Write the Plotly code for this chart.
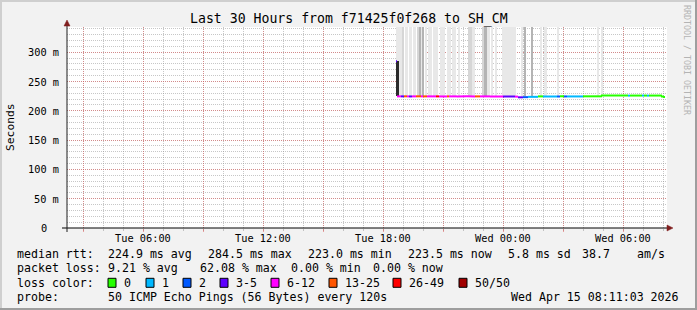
import plotly.graph_objects as go
import pandas as pd

# ---------------- data ----------------
t_start = "2026-04-14 02:11:03"
t_end = "2026-04-15 08:11:03"

# median RTT samples (ms) and lost pings out of 50
median_times = [
    "2026-04-14 18:38", "2026-04-14 18:41", "2026-04-14 18:53", "2026-04-14 19:02",
    "2026-04-14 19:11", "2026-04-14 19:17", "2026-04-14 19:26", "2026-04-14 19:38",
    "2026-04-14 19:53", "2026-04-14 19:59", "2026-04-14 20:11", "2026-04-14 20:38",
    "2026-04-14 20:47", "2026-04-14 21:11", "2026-04-14 21:17", "2026-04-14 21:41",
    "2026-04-14 22:11", "2026-04-14 22:35", "2026-04-14 22:50", "2026-04-14 23:20",
    "2026-04-14 23:59", "2026-04-15 00:35", "2026-04-15 00:44", "2026-04-15 00:59",
    "2026-04-15 01:14", "2026-04-15 01:44", "2026-04-15 01:59", "2026-04-15 02:41",
    "2026-04-15 02:50", "2026-04-15 03:02", "2026-04-15 03:11", "2026-04-15 03:59",
    "2026-04-15 04:56", "2026-04-15 06:14", "2026-04-15 06:20", "2026-04-15 06:56",
    "2026-04-15 07:02", "2026-04-15 07:11", "2026-04-15 07:17", "2026-04-15 07:56",
    "2026-04-15 08:02",
]
median_ms = [
    284.5, 224.6, 224.6, 224.7,
    224.6, 224.5, 224.6, 224.7,
    224.6, 224.6, 224.6, 224.6,
    224.5, 224.6, 224.6, 224.7,
    224.6, 224.6, 224.6, 224.5,
    224.4, 224.2, 223.0, 223.3,
    223.8, 224.6, 224.4, 224.4,
    224.8, 224.5, 224.5, 224.7,
    226.0, 225.9, 226.0, 226.0,
    226.0, 225.9, 226.0, 224.6,
    223.5,
]
lost_pings = [
    4, 8, 4, 15,
    9, 4, 10, 16,
    8, 14, 9, 30,
    10, 15, 8, 11,
    9, 17, 9, 7,
    4, 8, 3, 2,
    1, 0, 1, 2,
    0, 2, 1, 0,
    0, 1, 0, 1,
    0, 1, 0, 0,
    0,
]
median_last = "2026-04-15 08:05"

# smoke (spread of individual pings above the median)
smoke_from = [
    "2026-04-14 18:38", "2026-04-14 18:50", "2026-04-14 18:56", "2026-04-14 19:05",
    "2026-04-14 19:17", "2026-04-14 19:29", "2026-04-14 19:44", "2026-04-14 19:47",
    "2026-04-14 19:53", "2026-04-14 19:59", "2026-04-14 20:05", "2026-04-14 20:14",
    "2026-04-14 20:29", "2026-04-14 20:50", "2026-04-14 21:11", "2026-04-14 21:26",
    "2026-04-14 21:44", "2026-04-14 22:14", "2026-04-14 22:26", "2026-04-14 22:59",
    "2026-04-14 23:02", "2026-04-14 23:11", "2026-04-14 23:26", "2026-04-14 23:35",
    "2026-04-14 23:56", "2026-04-15 00:56", "2026-04-15 01:05", "2026-04-15 01:26",
    "2026-04-15 01:50", "2026-04-15 02:02", "2026-04-15 02:41", "2026-04-15 04:41",
    "2026-04-15 04:56", "2026-04-14 18:38",
]
smoke_to = [
    "2026-04-14 18:50", "2026-04-14 18:56", "2026-04-14 19:02", "2026-04-14 19:14",
    "2026-04-14 19:26", "2026-04-14 19:38", "2026-04-14 19:47", "2026-04-14 19:53",
    "2026-04-14 19:59", "2026-04-14 20:02", "2026-04-14 20:11", "2026-04-14 20:26",
    "2026-04-14 20:44", "2026-04-14 21:05", "2026-04-14 21:23", "2026-04-14 21:38",
    "2026-04-14 21:50", "2026-04-14 22:26", "2026-04-14 22:35", "2026-04-14 23:02",
    "2026-04-14 23:11", "2026-04-14 23:20", "2026-04-14 23:29", "2026-04-14 23:41",
    "2026-04-15 00:38", "2026-04-15 00:59", "2026-04-15 01:08", "2026-04-15 01:29",
    "2026-04-15 01:56", "2026-04-15 02:11", "2026-04-15 02:47", "2026-04-15 04:47",
    "2026-04-15 04:59", "2026-04-14 18:47",
]
smoke_top_ms = [380] * 33 + [284.5]
smoke_density = [
    1, 1, 2, 1, 1, 1, 2, 3, 1, 3, 1, 1, 1, 1, 1, 1, 1,
    2, 1, 2, 3, 1, 1, 1, 1, 1, 3, 3, 1, 1, 1, 1, 1, 4,
]

loss_labels = ["0", "1", "2", "3-5", "6-12", "13-25", "26-49", "50/50"]
loss_lower = [0, 1, 2, 3, 6, 13, 26, 50]

x_tick_vals = [
    "2026-04-14 03:00", "2026-04-14 06:00", "2026-04-14 09:00", "2026-04-14 12:00",
    "2026-04-14 15:00", "2026-04-14 18:00", "2026-04-14 21:00", "2026-04-15 00:00",
    "2026-04-15 03:00", "2026-04-15 06:00",
]
x_tick_text = ["", "Tue 06:00", "", "Tue 12:00", "", "Tue 18:00", "",
               "Wed 00:00", "", "Wed 06:00"]
y_tick_vals = [0, 50, 100, 150, 200, 250, 300]
y_tick_text = ["0", "50 m", "100 m", "150 m", "200 m", "250 m", "300 m"]
y_max = 343

title_text = "Last 30 Hours from f71425f0f268 to SH_CM"
rtt_items = ["224.9 ms avg", "284.5 ms max", "223.0 ms min", "223.5 ms now",
             "5.8 ms sd", "38.7", "am/s"]
loss_items = ["9.21 % avg", "62.08 % max", "0.00 % min", "0.00 % now"]
probe_text = "50 ICMP Echo Pings (56 Bytes) every 120s"
stamp_text = "Wed Apr 15 08:11:03 2026"

# ---------------- styles ----------------
LOSS_COLORS = ["#26ff00", "#00b8ff", "#0059ff", "#5e00ff", "#ff00ff",
               "#ff5500", "#ff0000", "#a10000"]
SMOKE_COLORS = {1: "#e8e8e8", 2: "#d6d6d6", 3: "#b4b4b4", 4: "#2b2b2b"}
MONO = "DejaVu Sans Mono"
GRID = "rgba(143,143,143,0.5)"
MGRID = "rgba(222,79,79,0.5)"

L, R, T, B = 67, 667, 27, 228  # plot area in pixels


def X(px):
    return (px - L) / (R - L)


def Y(py):
    return (B - py) / (B - T)


def loss_cat(n):
    c = 0
    for i, lo in enumerate(loss_lower):
        if n >= lo:
            c = i
    return c


fig = go.Figure()

# smoke bars
sf = pd.to_datetime(smoke_from)
st = pd.to_datetime(smoke_to)
for lvl in sorted(set(smoke_density)):
    idx = [i for i, d in enumerate(smoke_density) if d == lvl]
    mids = [sf[i] + (st[i] - sf[i]) / 2 for i in idx]
    widths = [(st[i] - sf[i]).total_seconds() * 1000 for i in idx]
    base = [224.6] * len(idx)
    fig.add_trace(go.Bar(
        x=mids, y=[smoke_top_ms[i] - 224.6 for i in idx], base=base, width=widths,
        marker=dict(color=SMOKE_COLORS[lvl], line=dict(width=0)),
        hoverinfo="skip", showlegend=False,
    ))

# median line, one trace per loss category, steps
mt = pd.to_datetime(median_times)
nxt = list(mt[1:]) + [pd.to_datetime(median_last)]
segs = {c: ([], []) for c in range(len(loss_lower))}
prev_cat = None
for i, (t, v, n) in enumerate(zip(mt, median_ms, lost_pings)):
    c = loss_cat(n)
    xs, ys = segs[c]
    if prev_cat == c:
        xs += [t, t, nxt[i], None]
        ys += [median_ms[i - 1], v, v, None]
    else:
        xs += [t, nxt[i], None]
        ys += [v, v, None]
    prev_cat = c
for c, (xs, ys) in segs.items():
    if xs:
        fig.add_trace(go.Scatter(
            x=xs, y=ys, mode="lines", line=dict(color=LOSS_COLORS[c], width=2),
            hoverinfo="skip", showlegend=False, connectgaps=False,
        ))

fig.update_layout(
    width=697, height=310, autosize=False,
    margin=dict(l=L, r=697 - R, t=T, b=310 - B, pad=0),
    paper_bgcolor="#f2f2f2", plot_bgcolor="#ffffff",
    barmode="overlay", bargap=0, showlegend=False,
    font=dict(family=MONO, color="#000000"),
)
fig.update_xaxes(
    type="date", range=[t_start, t_end], fixedrange=True,
    tickmode="array", tickvals=x_tick_vals, showticklabels=False,
    showgrid=True, gridcolor=MGRID, griddash="1px,1px", gridwidth=1,
    ticks="outside", ticklen=3, tickcolor=MGRID,
    minor=dict(dtick=3600000, tick0="2026-04-14 00:00", showgrid=True,
               gridcolor=GRID, griddash="1px,1px", ticks="outside",
               ticklen=2, tickcolor=GRID),
    showline=False, zeroline=False, layer="above traces",
)
fig.update_yaxes(
    range=[0, y_max], fixedrange=True,
    tickmode="array", tickvals=y_tick_vals, showticklabels=False,
    showgrid=True, gridcolor=MGRID, griddash="1px,1px", gridwidth=1,
    minor=dict(dtick=10, showgrid=True, gridcolor=GRID, griddash="1px,1px"),
    showline=False, zeroline=False, layer="above traces",
)

ann = []


def txt(px, py, s, size=11.6, anchor="left", color="#000", **kw):
    ann.append(dict(xref="paper", yref="paper", x=X(px), y=Y(py), text=s,
                    showarrow=False, xanchor=anchor, yanchor="middle",
                    font=dict(family=MONO, size=size, color=color),
                    borderpad=0, **kw))


# x tick labels (placed on the time axis)
for v, s in zip(x_tick_vals, x_tick_text):
    if s:
        ann.append(dict(xref="x", yref="paper", x=v, y=Y(237.5), text=s,
                        showarrow=False, xanchor="center", yanchor="middle",
                        font=dict(family=MONO, size=10.3, color="#000"), borderpad=0))

# y tick labels
for v, s in zip(y_tick_vals, y_tick_text):
    ann.append(dict(xref="paper", yref="y", x=X(60 if v else 47.5), y=v, text=s,
                    showarrow=False, xanchor="right", yanchor="middle",
                    font=dict(family=MONO, size=10.3, color="#000"), borderpad=0))

txt(348.5, 19, title_text, size=13.2, anchor="center")
txt(11, 127, "Seconds", size=11.3, anchor="center", textangle=-90)
txt(687, 60, "RRDTOOL / TOBI OETIKER", size=8.3, anchor="center",
    color="#b4b4b4", textangle=90)

# legend rows
row_y = [254, 268.4, 282.8, 297.2]
txt(16, row_y[0], "median rtt:")
for px, s in zip([107, 207, 307, 407, 507, 581, 636], rtt_items):
    txt(px, row_y[0], s)
txt(16, row_y[1], "packet loss:")
for px, s in zip([107, 199, 290, 372], loss_items):
    txt(px, row_y[1], s)
txt(16, row_y[2], "loss color:")
box_x = [108, 146, 183, 220, 271, 329, 393, 459]
shapes = []
for bx, lab, col in zip(box_x, loss_labels, LOSS_COLORS):
    shapes.append(dict(type="rect", xref="paper", yref="paper",
                       x0=X(bx), x1=X(bx + 8), y0=Y(row_y[2] + 4.5), y1=Y(row_y[2] - 4.5),
                       fillcolor=col, line=dict(color="#000", width=1), layer="above"))
    txt(bx + 15, row_y[2], lab)
txt(16, row_y[3], "probe:")
txt(107, row_y[3], probe_text)
txt(680, row_y[3], stamp_text, anchor="right")

# axes, arrows, frame
AX = "#1f1f1f"
ARROW = "#801f1f"
shapes += [
    dict(type="line", xref="paper", yref="paper", x0=X(62), x1=X(668), y0=0, y1=0,
         line=dict(color="#000", width=1)),
    dict(type="line", xref="paper", yref="paper", x0=0, x1=0, y0=Y(232), y1=Y(24),
         line=dict(color=AX, width=1)),
    dict(type="path", xref="paper", yref="paper",
         path=f"M {X(64)},{Y(26)} L {X(70)},{Y(26)} L {X(67)},{Y(20)} Z",
         fillcolor=ARROW, line=dict(color=ARROW, width=0.5)),
    dict(type="path", xref="paper", yref="paper",
         path=f"M {X(667)},{Y(225)} L {X(667)},{Y(231)} L {X(673)},{Y(228)} Z",
         fillcolor=ARROW, line=dict(color=ARROW, width=0.5)),
    # frame shading
    dict(type="rect", xref="paper", yref="paper", x0=X(0), x1=X(2), y0=Y(310), y1=Y(0),
         fillcolor="#cfcfcf", line=dict(width=0)),
    dict(type="rect", xref="paper", yref="paper", x0=X(0), x1=X(697), y0=Y(2), y1=Y(0),
         fillcolor="#cfcfcf", line=dict(width=0)),
    dict(type="rect", xref="paper", yref="paper", x0=X(695), x1=X(697), y0=Y(310), y1=Y(0),
         fillcolor="#9e9e9e", line=dict(width=0)),
    dict(type="rect", xref="paper", yref="paper", x0=X(0), x1=X(697), y0=Y(310), y1=Y(308),
         fillcolor="#9e9e9e", line=dict(width=0)),
]
fig.update_layout(annotations=ann, shapes=shapes)

fig.write_html("out.html")
